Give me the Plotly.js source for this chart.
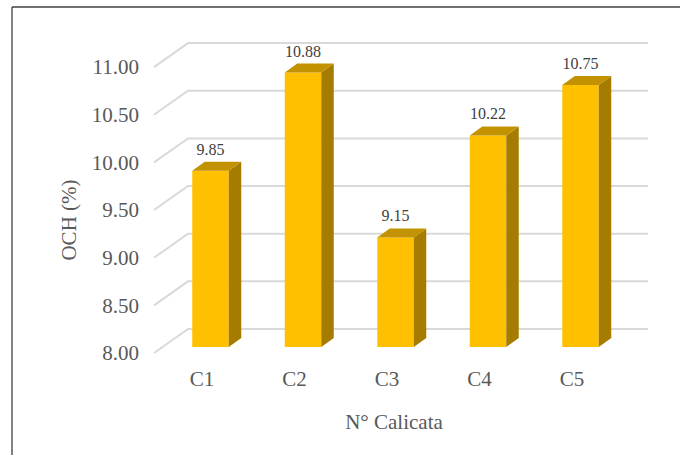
<!DOCTYPE html>
<html><head><meta charset="utf-8">
<script src="https://cdn.plot.ly/plotly-3.0.1.min.js"></script>
<style>html,body{margin:0;padding:0;background:#fff}#chart{width:680px;height:455px}</style>
</head><body><div id="chart"></div>
<script>
// ---- data ----
const categories = ['C1', 'C2', 'C3', 'C4', 'C5'];
const ochValues = [9.85, 10.88, 9.15, 10.22, 10.75];
const yTicks = [8.00, 8.50, 9.00, 9.50, 10.00, 10.50, 11.00];
const xTitle = 'N° Calicata';
const yTitle = 'OCH (%)';

// ---- geometry (pixels) ----
const W = 680, H = 455;
const L = 140, R = 648, T = 40, B = 400;
const PX_X = 92.5, PX_Y = 95.3;
const BASE = yTicks[0];
const frontX0 = 202, frontYbase = 353;
const xRange = [-(frontX0 - L) / PX_X, (R - frontX0) / PX_X];
const yRange = [BASE - (B - frontYbase) / PX_Y, BASE + (frontYbase - T) / PX_Y];
const barShiftX = 8.5 / PX_X, barShiftY = 6 / PX_Y;
const x2Range = xRange.map(v => v - barShiftX);
const y2Range = yRange.map(v => v - barShiftY);
const DX = 34 / PX_X, DY = 24 / PX_Y;          // floor depth
const xLeftFront = (154 - frontX0) / PX_X;
const BW = 36.5 / PX_X;                          // bar width
const DXb = 12.5 / PX_X, DYb = 9 / PX_Y;         // bar depth
const LABEL_DY = 20 / PX_Y;
const FONT = 'Liberation Serif';
const idx = categories.map((c, i) => i);

// ---- back wall grid + left floor diagonals ----
const gx = [], gy = [];
yTicks.forEach(v => {
  gx.push(xLeftFront, xLeftFront + DX, xRange[1], null);
  gy.push(v, v + DY, v + DY, null);
});
const traces = [{
  type: 'scatter', mode: 'lines', x: gx, y: gy, xaxis: 'x', yaxis: 'y',
  line: {color: '#D9D9D9', width: 2}, hoverinfo: 'skip', showlegend: false
}];

// ---- bars (front faces) ----
traces.push({
  type: 'bar', x: idx, y: ochValues.map(v => v - BASE), base: BASE, width: BW,
  xaxis: 'x2', yaxis: 'y2', marker: {color: '#FFC000', line: {width: 0}},
  hoverinfo: 'skip', showlegend: false
});

// ---- side and top faces ----
ochValues.forEach((v, i) => {
  const xr = i + BW / 2, xl = i - BW / 2;
  traces.push({
    type: 'scatter', mode: 'lines', fill: 'toself', fillcolor: '#A67C00',
    x: [xr, xr + DXb, xr + DXb, xr, xr], y: [BASE, BASE + DYb, v + DYb, v, BASE],
    line: {width: 0, color: '#A67C00'}, xaxis: 'x2', yaxis: 'y2', hoverinfo: 'skip', showlegend: false
  });
  traces.push({
    type: 'scatter', mode: 'lines', fill: 'toself', fillcolor: '#C29200',
    x: [xl, xr, xr + DXb, xl + DXb, xl], y: [v, v, v + DYb, v + DYb, v],
    line: {width: 0, color: '#C29200'}, xaxis: 'x2', yaxis: 'y2', hoverinfo: 'skip', showlegend: false
  });
});

// ---- data labels ----
traces.push({
  type: 'scatter', mode: 'text', x: idx, y: ochValues.map(v => v + LABEL_DY),
  text: ochValues.map(v => v.toFixed(2)), textposition: 'middle center',
  textfont: {family: FONT, size: 16, color: '#404040'}, cliponaxis: false,
  xaxis: 'x2', yaxis: 'y2', hoverinfo: 'skip', showlegend: false
});

const bx = (12 - L) / (R - L), by = (B - 7) / (B - T);
const layout = {
  width: W, height: H,
  margin: {l: L, r: W - R, t: T, b: H - B, pad: 0},
  paper_bgcolor: '#ffffff', plot_bgcolor: 'rgba(0,0,0,0)',
  showlegend: false,
  font: {family: FONT, color: '#595959'},
  xaxis: {
    range: xRange, anchor: 'free', position: (B - 364) / (B - T),
    tickvals: idx, ticktext: categories, tickfont: {family: FONT, size: 21, color: '#595959'},
    showgrid: false, zeroline: false, showline: false, ticks: '', fixedrange: true,
    title: {text: xTitle, font: {family: FONT, size: 21, color: '#595959'}, standoff: 24}
  },
  yaxis: {
    range: yRange, tickvals: yTicks, ticktext: yTicks.map(v => v.toFixed(2)),
    tickfont: {family: FONT, size: 21, color: '#595959'},
    showgrid: false, zeroline: false, showline: false, ticks: '', fixedrange: true,
    title: {text: yTitle, font: {family: FONT, size: 21, color: '#595959'}, standoff: 9}
  },
  xaxis2: {range: x2Range, overlaying: 'x', anchor: 'y2', visible: false, fixedrange: true},
  yaxis2: {range: y2Range, overlaying: 'y', anchor: 'x2', visible: false, fixedrange: true},
  shapes: [
    {type: 'line', xref: 'paper', yref: 'paper', x0: bx, x1: bx, y0: -0.3, y1: by, line: {color: '#595959', width: 1.5}},
    {type: 'line', xref: 'paper', yref: 'paper', x0: bx, x1: 1.3, y0: by, y1: by, line: {color: '#404040', width: 1.5}}
  ]
};
Plotly.newPlot('chart', traces, layout, {displayModeBar: false, staticPlot: true});
</script>
</body></html>
